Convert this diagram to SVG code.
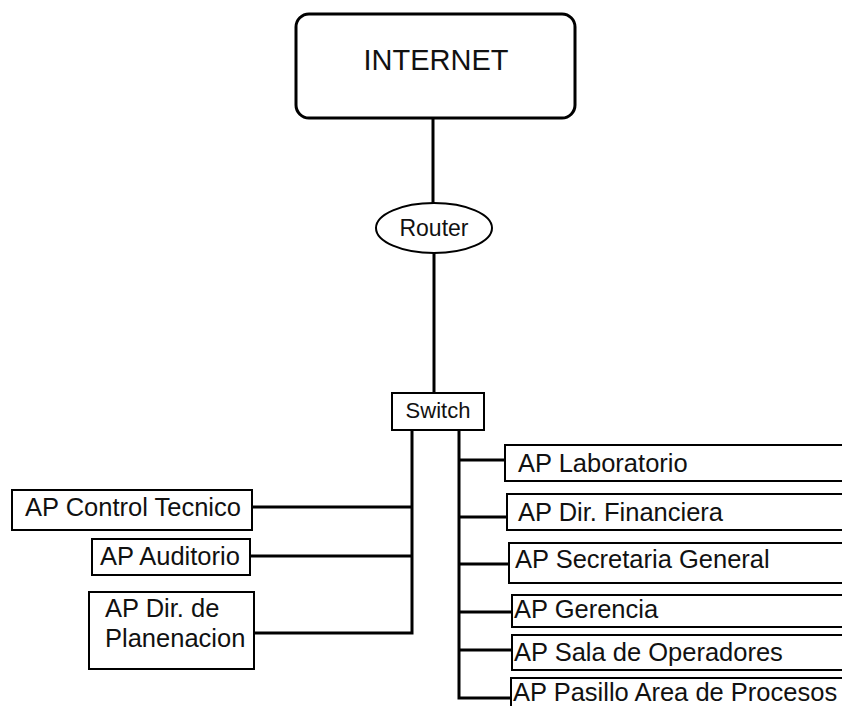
<svg xmlns="http://www.w3.org/2000/svg" width="842" height="706" viewBox="0 0 842 706">
<style>
.box{fill:#fff;stroke:#000;stroke-width:2}
.t{font-family:"Liberation Sans",Arial,sans-serif;font-size:25.5px;fill:#111}
.c{fill:none;stroke:#000;stroke-width:3}
</style>
<rect width="842" height="706" fill="#fff"/>
<g id="connectors">
<line class="c" x1="433" y1="118" x2="433" y2="204"/>
<line class="c" x1="434" y1="253" x2="434" y2="393"/>
<polyline class="c" points="412,430 412,633 254,633"/>
<line class="c" x1="252" y1="507" x2="412" y2="507"/>
<line class="c" x1="250" y1="556" x2="412" y2="556"/>
<polyline class="c" points="459,430 459,698 511,698"/>
<line class="c" x1="459" y1="460" x2="505" y2="460"/>
<line class="c" x1="459" y1="517" x2="507" y2="517"/>
<line class="c" x1="459" y1="564" x2="509" y2="564"/>
<line class="c" x1="459" y1="612" x2="512" y2="612"/>
<line class="c" x1="459" y1="650" x2="512" y2="650"/>
</g>
<g id="internet">
<rect x="296" y="14" width="279" height="104" rx="13" fill="#fff" stroke="#000" stroke-width="3"/>
<text class="t" x="436" y="70" text-anchor="middle" style="font-size:29px">INTERNET</text>
</g>
<g id="router">
<ellipse cx="434" cy="228" rx="58" ry="25" class="box"/>
<text class="t" x="434" y="236" text-anchor="middle" style="font-size:23px">Router</text>
</g>
<g id="switch">
<rect x="392" y="393" width="92" height="37" class="box"/>
<text class="t" x="438" y="418" text-anchor="middle" style="font-size:22px">Switch</text>
</g>
<g id="ap-control-tecnico">
<rect x="12" y="490" width="240" height="40" class="box"/>
<text class="t" x="25" y="516">AP Control Tecnico</text>
</g>
<g id="ap-auditorio">
<rect x="92" y="539" width="158" height="36" class="box"/>
<text class="t" x="100" y="565">AP Auditorio</text>
</g>
<g id="ap-dir-planenacion">
<rect x="89" y="592" width="165" height="77" class="box"/>
<text class="t" x="105" y="617">AP Dir. de</text>
<text class="t" x="105" y="647">Planenacion</text>
</g>
<g id="ap-laboratorio">
<rect x="505" y="445" width="350" height="36" class="box"/>
<text class="t" x="518" y="472">AP Laboratorio</text>
</g>
<g id="ap-dir-financiera">
<rect x="507" y="494" width="350" height="36" class="box"/>
<text class="t" x="518" y="521">AP Dir. Financiera</text>
</g>
<g id="ap-secretaria-general">
<rect x="509" y="543" width="350" height="40" class="box"/>
<text class="t" x="515" y="568">AP Secretaria General</text>
</g>
<g id="ap-gerencia">
<rect x="512" y="595" width="350" height="32" class="box"/>
<text class="t" x="514" y="618">AP Gerencia</text>
</g>
<g id="ap-sala-operadores">
<rect x="512" y="635" width="350" height="35" class="box"/>
<text class="t" x="514" y="661">AP Sala de Operadores</text>
</g>
<g id="ap-pasillo">
<rect x="511" y="678" width="350" height="40" class="box"/>
<text class="t" x="513" y="701">AP Pasillo Area de Procesos</text>
</g>
</svg>
